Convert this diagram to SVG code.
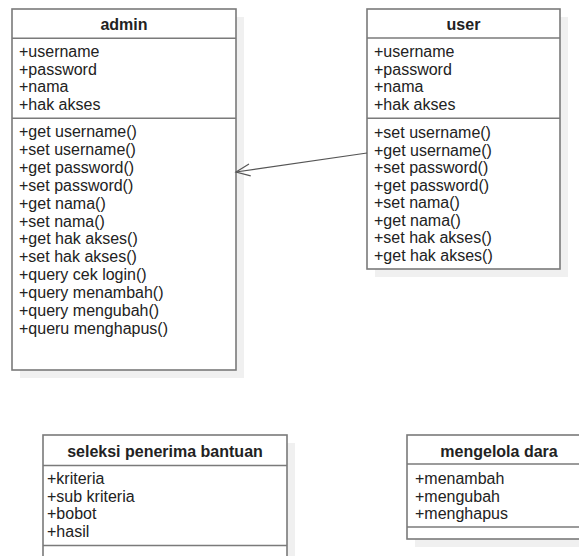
<svg xmlns="http://www.w3.org/2000/svg" width="579" height="556" viewBox="0 0 579 556">
<style>
.bg{fill:#ffffff}
.shadow{fill:#f0f0f0;stroke:none}
.box{fill:#ffffff;stroke:#7a7a7a;stroke-width:1.6}
.sep{stroke:#7a7a7a;stroke-width:1.6}
text{font-family:"Liberation Sans",Arial,sans-serif;font-size:16px;fill:#222222}
.title{font-weight:bold;text-anchor:middle}
.conn{fill:none;stroke:#555555;stroke-width:1.2}
</style>
<defs>
<marker id="open" viewBox="-16 -8 18 16" refX="0" refY="0" markerWidth="18" markerHeight="16" orient="auto" markerUnits="userSpaceOnUse">
<path d="M-14,-6 L0,0 L-14,6" fill="none" stroke="#555555" stroke-width="1.2"/>
</marker>
</defs>
<rect class="bg" x="0" y="0" width="579" height="556"/>

<g id="admin">
<rect class="shadow" x="20" y="17" width="224" height="361"/>
<rect class="box" x="12" y="9" width="224" height="361"/>
<line class="sep" x1="12" y1="38.3" x2="236" y2="38.3"/>
<line class="sep" x1="12" y1="118.3" x2="236" y2="118.3"/>
<text class="title" x="124" y="29.5">admin</text>
<text x="19" y="57">+username</text>
<text x="19" y="74.7">+password</text>
<text x="19" y="92.4">+nama</text>
<text x="19" y="110.1">+hak akses</text>
<text x="19" y="137">+get username()</text>
<text x="19" y="154.9">+set username()</text>
<text x="19" y="172.8">+get password()</text>
<text x="19" y="190.7">+set password()</text>
<text x="19" y="208.6">+get nama()</text>
<text x="19" y="226.5">+set nama()</text>
<text x="19" y="244.4">+get hak akses()</text>
<text x="19" y="262.3">+set hak akses()</text>
<text x="19" y="280.2">+query cek login()</text>
<text x="19" y="298.1">+query menambah()</text>
<text x="19" y="316">+query mengubah()</text>
<text x="19" y="333.9">+queru menghapus()</text>
</g>

<g id="user">
<rect class="shadow" x="375" y="17" width="193" height="260"/>
<rect class="box" x="367" y="9" width="193" height="260"/>
<line class="sep" x1="367" y1="38" x2="560" y2="38"/>
<line class="sep" x1="367" y1="118.3" x2="560" y2="118.3"/>
<text class="title" x="463.5" y="29.5">user</text>
<text x="374" y="57">+username</text>
<text x="374" y="74.7">+password</text>
<text x="374" y="92.4">+nama</text>
<text x="374" y="110.1">+hak akses</text>
<text x="374" y="138">+set username()</text>
<text x="374" y="155.5">+get username()</text>
<text x="374" y="173">+set password()</text>
<text x="374" y="190.5">+get password()</text>
<text x="374" y="208">+set nama()</text>
<text x="374" y="225.5">+get nama()</text>
<text x="374" y="243">+set hak akses()</text>
<text x="374" y="260.5">+get hak akses()</text>
</g>

<g id="seleksi">
<rect class="shadow" x="51" y="443" width="244" height="123"/>
<rect class="box" x="43" y="435" width="244" height="123"/>
<line class="sep" x1="43" y1="465.5" x2="287" y2="465.5"/>
<line class="sep" x1="43" y1="545.5" x2="287" y2="545.5"/>
<text class="title" x="165" y="456.5">seleksi penerima bantuan</text>
<text x="47" y="484">+kriteria</text>
<text x="47" y="501.5">+sub kriteria</text>
<text x="47" y="519">+bobot</text>
<text x="47" y="536.5">+hasil</text>
</g>

<g id="mengelola">
<rect class="shadow" x="415" y="443" width="190" height="104"/>
<rect class="box" x="407" y="435" width="190" height="104"/>
<line class="sep" x1="407" y1="464" x2="597" y2="464"/>
<line class="sep" x1="407" y1="527" x2="597" y2="527"/>
<text class="title" x="499" y="456.5">mengelola dara</text>
<text x="415" y="484">+menambah</text>
<text x="415" y="501.5">+mengubah</text>
<text x="415" y="519">+menghapus</text>
</g>

<g id="connectors">
<path class="conn" d="M367,153 L236,172" marker-end="url(#open)"/>
</g>
</svg>
